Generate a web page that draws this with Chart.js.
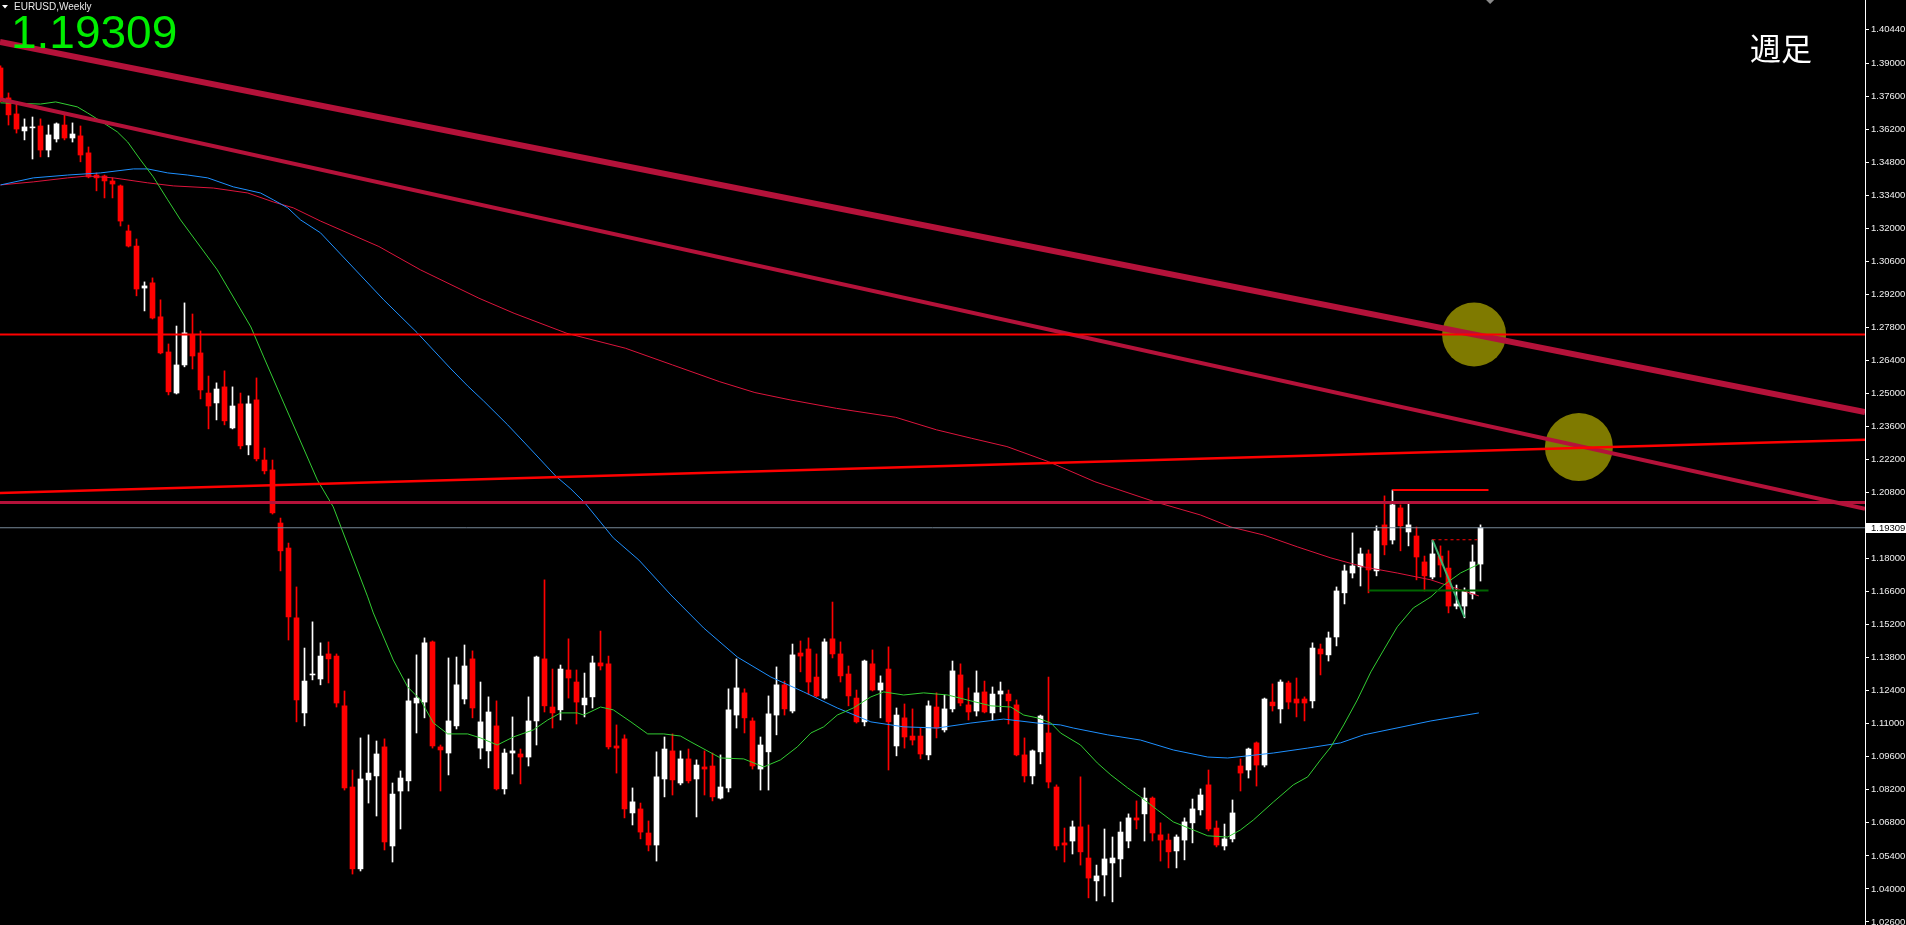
<!DOCTYPE html>
<html>
<head>
<meta charset="utf-8">
<script src="https://cdn.jsdelivr.net/npm/chart.js@4.4.1/dist/chart.umd.min.js"></script>
<style>
  html, body { margin: 0; padding: 0; background: #000; overflow: hidden; }
  canvas { display: block; }
</style>
</head>
<body>
<canvas id="chart" width="1906" height="925"></canvas>
<script>
// weekly candles, index 0 = leftmost bar
const opens = [
  1.3880,1.3753,1.3685,1.3613,1.3626,1.3634,1.3532,1.3579,1.3638,1.3583,
  1.3592,1.3520,1.3426,1.3422,1.3401,1.3380,1.3189,1.3125,1.2947,1.2969,
  1.2825,1.2676,1.2502,1.2621,1.2748,1.2672,1.2502,1.2460,1.2528,1.2354,
  1.2456,1.2282,1.2473,1.2218,1.2176,1.1951,1.1845,1.1549,1.1146,1.1307,
  1.1290,1.1396,1.1387,1.1176,1.0832,1.0485,1.0862,1.0879,1.1002,1.0582,
  1.0815,1.0858,1.1188,1.1192,1.1447,1.1002,1.0976,1.1091,1.1205,1.1375,
  1.0997,1.0985,1.1091,1.0824,1.0976,1.0972,1.0959,1.1112,1.1375,1.1171,
  1.1159,1.1328,1.1277,1.1180,1.1214,1.1358,1.1354,1.1006,1.1036,1.0722,
  1.0739,1.0637,1.0586,1.0866,1.0985,1.0849,1.0951,1.0866,1.0917,1.0921,
  1.0785,1.0828,1.1137,1.1231,1.1112,1.0908,1.0981,1.1137,1.1265,1.1154,
  1.1400,1.1417,1.1298,1.1209,1.1460,1.1396,1.1311,1.1209,1.1108,1.1354,
  1.1243,1.1332,1.1006,1.1125,1.1048,1.1048,1.0968,1.1171,1.1074,1.1163,
  1.1307,1.1180,1.1154,1.1235,1.1146,1.1226,1.1226,1.1180,1.0968,1.0879,
  1.0981,1.1061,1.0832,1.0595,1.0603,1.0663,1.0531,1.0434,1.0459,1.0510,
  1.0527,1.0603,1.0701,1.0718,1.0785,1.0629,1.0607,1.0561,1.0607,1.0680,
  1.0735,1.0841,1.0658,1.0582,1.0612,1.0921,1.0904,1.1019,1.0925,1.1192,
  1.1163,1.1273,1.1205,1.1205,1.1197,1.1417,1.1392,1.1468,1.1655,1.1739,
  1.1765,1.1820,1.1748,1.1943,1.1879,1.2015,1.1913,1.1896,1.1786,1.1722,
  1.1811,1.1760,1.1599,1.1599,1.1650,1.1777
];
const highs = [
  1.3889,1.3774,1.3732,1.3664,1.3672,1.3664,1.3638,1.3647,1.3689,1.3647,
  1.3634,1.3545,1.3435,1.3426,1.3414,1.3384,1.3214,1.3155,1.2973,1.2990,
  1.2897,1.2710,1.2786,1.2884,1.2837,1.2765,1.2574,1.2545,1.2596,1.2528,
  1.2502,1.2490,1.2566,1.2269,1.2218,1.1972,1.1866,1.1680,1.1421,1.1532,
  1.1443,1.1447,1.1396,1.1239,1.0904,1.1040,1.1053,1.1027,1.1036,1.0849,
  1.0900,1.1290,1.1392,1.1464,1.1451,1.1010,1.1379,1.1383,1.1434,1.1409,
  1.1277,1.1214,1.1197,1.0993,1.1129,1.0993,1.1214,1.1387,1.1710,1.1332,
  1.1349,1.1460,1.1328,1.1315,1.1387,1.1493,1.1387,1.1095,1.1053,1.0828,
  1.0764,1.0688,1.0981,1.1044,1.1057,1.0985,1.0993,1.0947,1.0985,1.0976,
  1.0968,1.1248,1.1375,1.1248,1.1125,1.1044,1.1218,1.1341,1.1281,1.1438,
  1.1451,1.1464,1.1396,1.1460,1.1616,1.1447,1.1345,1.1243,1.1370,1.1413,
  1.1303,1.1426,1.1167,1.1184,1.1163,1.1082,1.1197,1.1231,1.1222,1.1366,
  1.1354,1.1252,1.1324,1.1281,1.1256,1.1277,1.1243,1.1201,1.1040,1.0989,
  1.1137,1.1298,1.0841,1.0658,1.0688,1.0875,1.0671,1.0501,1.0654,1.0620,
  1.0684,1.0718,1.0773,1.0828,1.0790,1.0680,1.0633,1.0629,1.0701,1.0781,
  1.0824,1.0904,1.0688,1.0675,1.0777,1.0951,1.0997,1.1023,1.1209,1.1269,
  1.1286,1.1281,1.1294,1.1214,1.1443,1.1438,1.1489,1.1680,1.1773,1.1909,
  1.1845,1.1837,1.1939,1.2066,1.2091,1.2028,1.2032,1.1934,1.1811,1.1879,
  1.1854,1.1833,1.1688,1.1676,1.1858,1.1943
];
const lows = [
  1.3736,1.3638,1.3604,1.3575,1.3494,1.3503,1.3503,1.3566,1.3575,1.3566,
  1.3482,1.3414,1.3359,1.3329,1.3329,1.3210,1.3121,1.2914,1.2850,1.2816,
  1.2668,1.2494,1.2498,1.2613,1.2604,1.2477,1.2350,1.2388,1.2367,1.2350,
  1.2265,1.2240,1.2214,1.2159,1.1989,1.1748,1.1455,1.1108,1.1091,1.1286,
  1.1265,1.1273,1.1171,1.0819,1.0463,1.0476,1.0764,1.0709,1.0565,1.0514,
  1.0654,1.0815,1.1061,1.1125,1.0997,1.0815,1.0883,1.1078,1.1184,1.1125,
  1.0951,1.0913,1.0819,1.0802,1.0887,1.0845,1.0921,1.1010,1.1150,1.1082,
  1.1116,1.1209,1.1099,1.1129,1.1167,1.1328,1.0993,1.0891,1.0701,1.0671,
  1.0612,1.0561,1.0518,1.0790,1.0798,1.0841,1.0849,1.0705,1.0798,1.0773,
  1.0781,1.0811,1.1082,1.1061,1.0908,1.0819,1.0819,1.1053,1.1137,1.1146,
  1.1320,1.1226,1.1214,1.1205,1.1379,1.1277,1.1176,1.1103,1.1091,1.1239,
  1.1125,1.0904,1.0964,1.0997,1.1010,1.0951,1.0947,1.1040,1.1065,1.1150,
  1.1176,1.1116,1.1133,1.1146,1.1116,1.1150,1.1099,1.0964,1.0853,1.0845,
  1.0930,1.0828,1.0565,1.0514,1.0548,1.0501,1.0362,1.0349,1.0370,1.0345,
  1.0451,1.0574,1.0654,1.0603,1.0603,1.0518,1.0489,1.0489,1.0523,1.0595,
  1.0713,1.0646,1.0578,1.0565,1.0599,1.0815,1.0870,1.0836,1.0917,1.1154,
  1.1103,1.1163,1.1129,1.1112,1.1167,1.1307,1.1366,1.1430,1.1608,1.1718,
  1.1684,1.1655,1.1727,1.1816,1.1862,1.1833,1.1854,1.1710,1.1663,1.1714,
  1.1722,1.1570,1.1587,1.1549,1.1629,1.1705
];
const closes = [
  1.3753,1.3681,1.3621,1.3630,1.3630,1.3532,1.3596,1.3643,1.3583,1.3600,
  1.3511,1.3418,1.3414,1.3401,1.3388,1.3231,1.3125,1.2943,1.2956,1.2820,
  1.2672,1.2507,1.2621,1.2757,1.2659,1.2515,1.2447,1.2519,1.2384,1.2447,
  1.2278,1.2456,1.2223,1.2172,1.1994,1.1833,1.1553,1.1201,1.1281,1.1311,
  1.1387,1.1375,1.1188,1.0828,1.0485,1.0866,1.0891,1.0972,1.0599,1.0802,
  1.0870,1.1197,1.1209,1.1443,1.1006,1.0989,1.1112,1.1265,1.1345,1.1167,
  1.1108,1.1150,1.0824,1.0976,1.0985,1.0959,1.1112,1.1383,1.1176,1.1146,
  1.1332,1.1294,1.1192,1.1209,1.1358,1.1345,1.1002,1.0997,1.0739,1.0769,
  1.0641,1.0586,1.0875,1.0993,1.0862,1.0951,1.0858,1.0925,1.0908,1.0790,
  1.0832,1.1159,1.1252,1.1125,1.0921,1.1010,1.1142,1.1265,1.1163,1.1392,
  1.1387,1.1277,1.1218,1.1447,1.1396,1.1303,1.1218,1.1108,1.1366,1.1243,
  1.1273,1.1108,1.1137,1.1044,1.1031,1.0972,1.1176,1.1082,1.1163,1.1324,
  1.1188,1.1150,1.1231,1.1150,1.1226,1.1239,1.1197,1.0968,1.0879,1.0985,
  1.1133,1.0853,1.0582,1.0586,1.0663,1.0557,1.0446,1.0455,1.0527,1.0531,
  1.0641,1.0701,1.0692,1.0785,1.0637,1.0607,1.0557,1.0620,1.0684,1.0739,
  1.0798,1.0654,1.0586,1.0612,1.0722,1.0891,1.0993,1.0925,1.1205,1.1176,
  1.1277,1.1192,1.1188,1.1188,1.1421,1.1396,1.1464,1.1663,1.1748,1.1769,
  1.1820,1.1752,1.1917,1.1858,1.2028,1.1939,1.1943,1.1807,1.1727,1.1820,
  1.1773,1.1599,1.1608,1.1663,1.1786,1.19309
];
const lastPrice = 1.19309;
const shiftMarkerBar = 186.2;

// price axis labels (1.19400 is hidden under the current price box)
const yTicks = [1.4044, 1.390, 1.376, 1.362, 1.348, 1.334, 1.320, 1.306, 1.292, 1.278,
  1.264, 1.250, 1.236, 1.222, 1.208, 1.180, 1.166, 1.152, 1.138, 1.124,
  1.110, 1.096, 1.082, 1.068, 1.054, 1.040, 1.026];

// moving averages as [bar index, price]
const maGreen = [
  [0,1.3732],[5,1.3727],[6.9,1.3736],[9.6,1.3715],[10.9,1.3689],[12.5,1.3655],[14.6,1.3609],
  [15.9,1.3566],[17.5,1.3490],[19.1,1.3418],[20.9,1.3321],[22.5,1.3236],[25,1.3121],[27.1,1.3024],
  [29.1,1.2909],[31.3,1.2782],[32.9,1.2655],[35.4,1.2460],[39.6,1.2134],[41.6,1.2019],[43.8,1.1824],
  [45.9,1.1638],[46.6,1.1570],[49.1,1.1370],[50.9,1.1256],[52.5,1.1201],[54.1,1.1104],[55.9,1.1057],
  [58.4,1.1057],[60,1.1040],[62.1,1.1010],[64.1,1.1044],[66.6,1.1074],[68.4,1.1116],[70,1.1146],
  [72.1,1.1146],[72.9,1.1137],[75,1.1171],[76.6,1.1159],[78.8,1.1108],[80.9,1.1057],[82.9,1.1057],
  [85,1.1048],[86.3,1.1023],[90,1.0955],[92.9,1.0951],[95.4,1.0917],[97.5,1.0947],[99.6,1.1002],
  [101.3,1.1061],[102.9,1.1087],[104.6,1.1137],[106.6,1.1167],[108.8,1.1214],[110.4,1.1235],
  [112.9,1.1222],[115.4,1.1231],[118.4,1.1222],[121.3,1.1197],[123.8,1.1176],[126.3,1.1171],
  [127.9,1.1137],[129.6,1.1125],[131.3,1.1103],[132.5,1.1061],[135,1.1010],[137.1,1.0934],
  [138.8,1.0883],[140.9,1.0828],[142.5,1.0790],[144.6,1.0735],[146.6,1.0684],[149.1,1.0650],
  [150.9,1.0625],[153.4,1.0620],[155,1.0650],[156.6,1.0692],[159.1,1.0768],[161.6,1.0841],
  [163.4,1.0875],[165,1.0947],[166.3,1.1002],[167.9,1.1095],[169.6,1.1201],[171.3,1.1320],
  [172.9,1.1413],[174.6,1.1511],[176.6,1.1591],[178.8,1.1638],[180.4,1.1688],[182.5,1.1739],
  [184.8,1.1777]
];
const maBlue = [
  [0,1.3384],[4.1,1.3414],[8.4,1.3426],[12.5,1.3435],[16.6,1.3452],[18.4,1.3452],[20.9,1.3435],
  [23.4,1.3426],[25.9,1.3414],[29.1,1.3376],[32.5,1.3350],[34.1,1.3321],[35.9,1.3287],[37.5,1.3236],
  [40,1.3181],[47.9,1.2897],[52.1,1.2757],[56.2,1.2608],[58.4,1.2532],[60.4,1.2468],[63.4,1.2367],
  [66.6,1.2252],[69.4,1.2150],[71.3,1.2095],[73,1.2038],[76.6,1.1888],[79.8,1.1794],[83.8,1.1646],
  [87.9,1.1506],[92.1,1.1383],[96.3,1.1298],[100.4,1.1235],[104.6,1.1167],[108.8,1.1108],
  [112.9,1.1087],[117.1,1.1082],[121.3,1.1103],[125.4,1.1120],[129.6,1.1103],[132.5,1.1095],
  [134.1,1.1082],[138.4,1.1053],[142.5,1.1031],[146.6,1.0989],[150.9,1.0959],[153.4,1.0955],
  [155.9,1.0964],[159.1,1.0976],[163.4,1.0997],[167.5,1.1019],[170.4,1.1053],[178.8,1.1112],
  [184.8,1.1146]
];
const maRed = [
  [0,1.3384],[4.1,1.3397],[8.4,1.3414],[10.9,1.3422],[14.1,1.3414],[18.4,1.3393],[21.6,1.3380],
  [26.6,1.3371],[30.9,1.3350],[34.1,1.3312],[36.6,1.3287],[40,1.3231],[47.3,1.3123],[52.5,1.3024],
  [59.8,1.2904],[64.2,1.2840],[70.8,1.2755],[78.1,1.2692],[84,1.2621],[89.9,1.2550],[94.3,1.2504],
  [98.7,1.2473],[104.5,1.2437],[111.9,1.2399],[117,1.2346],[121.4,1.2310],[125.8,1.2275],
  [131,1.2211],[136.8,1.2126],[144.2,1.2042],[150,1.1985],[153.8,1.1934],[157.9,1.1900],
  [162.1,1.1850],[166.3,1.1803],[170.4,1.1765],[174.6,1.1739],[178.8,1.1710],[182.9,1.1663],
  [184.8,1.1642]
];

// drawn objects
const xMin = -0.0625, xMax = 233.0625;
const trendUpper = [[xMin,1.3990],[xMax,1.2421]];
const trendMiddle = [[xMin,1.3747],[xMax,1.2011]];
const risingLine = [[xMin,1.2078],[xMax,1.2304]];
const level1 = 1.2750;
const level2 = 1.2038;
const recentHigh = [[174,1.2091],[186,1.2091]];
const recentLow = [[171,1.1665],[186,1.1665]];
const dashedLevel = [[179,1.1880],[184.6,1.1880]];
const tealLine = [[179,1.1880],[183,1.1552]];
const circles = [[184.2,1.2750],[197.3,1.2273]];

const pts = arr => arr.map(([x, y]) => ({ x, y }));
const flat = v => [{ x: xMin, y: v }, { x: xMax, y: v }];
const candleColors = closes.map((c, i) => c >= opens[i] ? '#ffffff' : '#ff0000');

function lineSet(data, color, width, order, extra) {
  return Object.assign({
    type: 'line', data, borderColor: color, borderWidth: width,
    pointRadius: 0, fill: false, tension: 0, order
  }, extra || {});
}

const overlay = {
  id: 'overlay',
  afterDraw(chart) {
    const { ctx, scales: { x, y }, chartArea } = chart;
    ctx.save();
    // current price box on the axis
    const py = Math.round(y.getPixelForValue(lastPrice));
    ctx.fillStyle = '#ffffff';
    ctx.fillRect(chartArea.right + 1, py - 5, 41, 10);
    ctx.fillStyle = '#000000';
    ctx.font = '9.5px "Liberation Sans"';
    ctx.textBaseline = 'middle';
    ctx.textAlign = 'left';
    ctx.fillText(lastPrice.toFixed(5), chartArea.right + 6, py + 0.5);

    // chart shift marker at the top edge
    const sx = x.getPixelForValue(shiftMarkerBar);
    ctx.fillStyle = '#8a8a8a';
    ctx.beginPath();
    ctx.moveTo(sx - 4, 0); ctx.lineTo(sx + 4, 0); ctx.lineTo(sx, 4); ctx.closePath();
    ctx.fill();

    // header
    ctx.fillStyle = '#ffffff';
    ctx.beginPath();
    ctx.moveTo(2, 5); ctx.lineTo(8, 5); ctx.lineTo(5, 8.5); ctx.closePath();
    ctx.fill();
    ctx.fillStyle = '#e8e8e8';
    ctx.font = '10px "Liberation Sans"';
    ctx.fillText('EURUSD,Weekly', 14, 7);

    ctx.fillStyle = '#00ee00';
    ctx.font = '46px "Liberation Sans"';
    ctx.textBaseline = 'alphabetic';
    ctx.fillText(lastPrice.toFixed(5), 11, 47.5);

    ctx.fillStyle = '#ffffff';
    ctx.font = '31px "Noto Sans CJK JP"';
    ctx.fillText('週足', 1750, 60);
    ctx.restore();
  }
};

new Chart(document.getElementById('chart').getContext('2d'), {
  type: 'bar',
  data: {
    datasets: [
      // circles behind everything
      { type: 'bubble', data: pts(circles), radius: [32, 34], backgroundColor: '#7f7a00',
        borderWidth: 0, order: 9 },
      // candles
      { type: 'bar', data: highs.map((h, i) => ({ x: i, y: [lows[i], h] })),
        backgroundColor: candleColors, barThickness: 1, grouped: false, order: 8 },
      { type: 'bar', data: opens.map((o, i) => ({ x: i, y: [o, closes[i]] })),
        backgroundColor: candleColors, barThickness: 5, grouped: false, order: 7 },
      // moving averages
      lineSet(pts(maRed), '#dc143c', 1, 6),
      lineSet(pts(maBlue), '#1e90ff', 1, 5),
      lineSet(pts(maGreen), '#32cd32', 1, 4),
      // objects
      lineSet(flat(lastPrice), '#778899', 1, 3),
      lineSet(pts(trendUpper), '#b4123a', 6, 2),
      lineSet(pts(trendMiddle), '#b4123a', 4, 2),
      lineSet(flat(level2), '#b4123a', 3, 2),
      lineSet(flat(level1), '#ff0000', 2, 1),
      lineSet(pts(risingLine), '#ff0000', 2.5, 1),
      lineSet(pts(recentHigh), '#ff0000', 2, 0),
      lineSet(pts(recentLow), '#006400', 2, 0),
      lineSet(pts(dashedLevel), '#ff0000', 1, 0, { borderDash: [3, 3] }),
      lineSet(pts(tealLine), '#3cb371', 2, 0)
    ]
  },
  plugins: [overlay],
  options: {
    responsive: false,
    animation: false,
    events: [],
    layout: { padding: 0, autoPadding: false },
    plugins: { legend: { display: false }, tooltip: { enabled: false } },
    scales: {
      x: { type: 'linear', display: false, min: xMin, max: xMax, offset: false },
      y: {
        position: 'right',
        min: 1.0247,
        max: 1.4168,
        afterBuildTicks: s => { s.ticks = yTicks.map(v => ({ value: v })); },
        afterFit: s => { s.width = 41; s.paddingTop = 0; s.paddingBottom = 0; },
        ticks: {
          color: '#f0f0f0',
          font: { family: 'Liberation Sans', size: 9.5 },
          padding: 2,
          autoSkip: false,
          callback: v => Number(v).toFixed(5)
        },
        grid: { drawOnChartArea: false, color: '#ffffff', tickLength: 4 },
        border: { color: '#ffffff', width: 1 }
      }
    }
  }
});
</script>
</body>
</html>
